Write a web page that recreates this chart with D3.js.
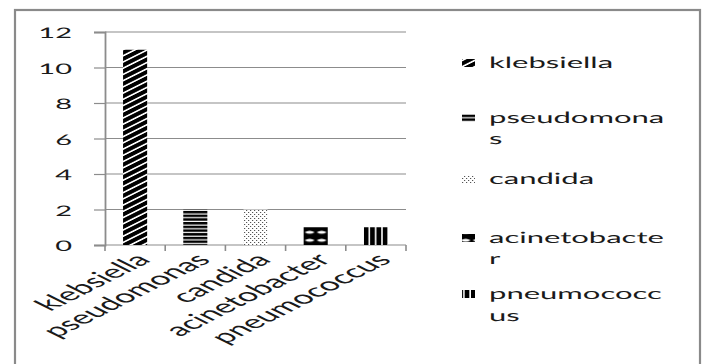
<!DOCTYPE html>
<html>
<head>
<meta charset="utf-8">
<script src="https://cdn.jsdelivr.net/npm/d3@7"></script>
<style>
  body { margin: 0; background: #fff; }
  svg { display: block; }
  text { font-family: Lato, "Open Sans", sans-serif; fill: #1a1a1a; text-rendering: geometricPrecision; }
</style>
</head>
<body>
<svg id="chart" width="704" height="364"></svg>
<script>
// data
const organisms = ["klebsiella", "pseudomonas", "candida", "acinetobacter", "pneumococcus"];
const counts = [11, 2, 2, 1, 1];
const yTicks = [0, 2, 4, 6, 8, 10, 12];
// legend text wraps the way the original does
const legendLines = [["klebsiella"], ["pseudomona", "s"], ["candida"], ["acinetobacte", "r"], ["pneumococc", "us"]];

// the source image was stretched sideways, so text is too
const SX = 2;

const svg = d3.select("#chart");
const defs = svg.append("defs");

const plot = { left: 105, right: 406, top: 32, bottom: 245 };

const x = d3.scaleBand()
  .domain(organisms)
  .range([plot.left, plot.right])
  .paddingInner(0.6)
  .paddingOuter(0.3);

const y = d3.scaleLinear()
  .domain([0, 12])
  .range([plot.bottom, plot.top]);

// fill patterns, one per organism
const pats = ["p-kleb", "p-pseudo", "p-cand", "p-acin", "p-pneu"];

let p = defs.append("pattern").attr("id", pats[0])
  .attr("patternUnits", "userSpaceOnUse").attr("width", 4.4).attr("height", 4.4)
  .attr("patternTransform", `scale(${SX},1) rotate(-45)`);
p.append("rect").attr("width", 4.4).attr("height", 4.4).attr("fill", "#fff");
p.append("rect").attr("width", 4.4).attr("height", 3.1).attr("fill", "#000");

p = defs.append("pattern").attr("id", pats[1])
  .attr("patternUnits", "userSpaceOnUse").attr("width", 4).attr("height", 3.7);
p.append("rect").attr("width", 4).attr("height", 3.7).attr("fill", "#fff");
p.append("rect").attr("width", 4).attr("height", 2.5).attr("fill", "#000");

p = defs.append("pattern").attr("id", pats[2])
  .attr("patternUnits", "userSpaceOnUse").attr("width", 4).attr("height", 4);
p.append("rect").attr("width", 4).attr("height", 4).attr("fill", "#fff");
p.append("rect").attr("width", 1.2).attr("height", 1).attr("fill", "#555");
p.append("rect").attr("x", 2).attr("y", 2).attr("width", 1.2).attr("height", 1).attr("fill", "#555");

p = defs.append("pattern").attr("id", pats[3])
  .attr("patternUnits", "userSpaceOnUse").attr("width", 12).attr("height", 8)
  .attr("x", x(organisms[3])).attr("y", y(counts[3]) + 1);
p.append("rect").attr("width", 12).attr("height", 8).attr("fill", "#000");
p.append("path").attr("d", "M1,4 Q6,0.8 11,4 Q6,7.2 1,4 Z").attr("fill", "#fff");

p = defs.append("pattern").attr("id", pats[4])
  .attr("patternUnits", "userSpaceOnUse").attr("width", 6.3).attr("height", 5)
  .attr("x", x(organisms[4]));
p.append("rect").attr("width", 6.3).attr("height", 5).attr("fill", "#fff");
p.append("rect").attr("width", 4.7).attr("height", 5).attr("fill", "#000");

// outer frame
svg.append("rect")
  .attr("x", 15).attr("y", 10).attr("width", 685).attr("height", 360)
  .attr("fill", "none").attr("stroke", "#8a8a8a").attr("stroke-width", 2.2);

// gridlines
svg.append("g").selectAll("line")
  .data(yTicks.filter(d => d > 0))
  .join("line")
  .attr("x1", plot.left).attr("x2", plot.right)
  .attr("y1", d => y(d)).attr("y2", d => y(d))
  .attr("stroke", "#8c8c8c").attr("stroke-width", 1.2);

// y axis
const yAxis = svg.append("g")
  .attr("transform", `translate(${plot.left},0)`)
  .call(d3.axisLeft(y).tickValues(yTicks).tickSize(11).tickPadding(0).tickFormat(d3.format("d")));
yAxis.select(".domain").attr("stroke", "#8c8c8c").attr("stroke-width", 1.8);
yAxis.selectAll(".tick line").attr("stroke", "#8c8c8c").attr("stroke-width", 1.2);
yAxis.selectAll(".tick text")
  .attr("x", null).attr("dy", null)
  .attr("font-size", 14.5)
  .attr("fill", "#1a1a1a")
  .style("font-family", "Lato, sans-serif")
  .attr("text-anchor", "end")
  .attr("transform", `translate(-33,5.5) scale(${SX},1)`);

// x axis: ticks between categories
const edges = organisms.map(d => x(d) - x.step() * x.paddingInner() / 2);
edges.push(plot.right);
svg.append("line")
  .attr("x1", plot.left).attr("x2", plot.right)
  .attr("y1", plot.bottom).attr("y2", plot.bottom)
  .attr("stroke", "#8c8c8c").attr("stroke-width", 1.2);
svg.append("g").selectAll("line")
  .data(edges)
  .join("line")
  .attr("x1", d => d).attr("x2", d => d)
  .attr("y1", plot.bottom).attr("y2", plot.bottom + 6)
  .attr("stroke", "#8c8c8c").attr("stroke-width", 1.6);

// bars
svg.append("g").selectAll("rect")
  .data(organisms)
  .join("rect")
  .attr("x", d => x(d))
  .attr("y", (d, i) => y(counts[i]))
  .attr("width", x.bandwidth())
  .attr("height", (d, i) => y(0) - y(counts[i]))
  .attr("fill", (d, i) => `url(#${pats[i]})`);

// rotated category labels
svg.append("g").selectAll("text")
  .data(organisms)
  .join("text")
  .attr("text-anchor", "end")
  .attr("font-size", 18)
  .attr("dy", "0.7em")
  .attr("transform", d => `translate(${x(d) + x.bandwidth() / 2 - 1},252) scale(${SX},1) rotate(-45)`)
  .text(d => d);

// legend
const legendY = [[68], [123, 144], [184], [243, 264], [299, 321]];
const legend = svg.append("g");
legendLines.forEach((lines, i) => {
  legend.append("rect")
    .attr("x", 462).attr("y", legendY[i][0] - 9)
    .attr("width", 13).attr("height", 8)
    .attr("fill", `url(#${pats[i]})`);
  lines.forEach((t, j) => {
    legend.append("text")
      .attr("font-size", 15.5)
      .attr("transform", `translate(489,${legendY[i][j]}) scale(${SX},1)`)
      .text(t);
  });
});
</script>
</body>
</html>
